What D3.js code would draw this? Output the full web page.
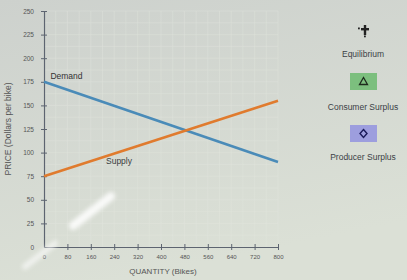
<!DOCTYPE html>
<html>
<head>
<meta charset="utf-8">
<script src="https://cdn.jsdelivr.net/npm/d3@7"></script>
<style>
  body { margin: 0; background: #d6dad4; }
  svg { display: block; font-family: "Liberation Sans", Arial, sans-serif; }
</style>
</head>
<body>
<div id="chart"></div>
<script>
// data
const quantityTicks = [0, 80, 160, 240, 320, 400, 480, 560, 640, 720, 800];
const priceTicks = [0, 25, 50, 75, 100, 125, 150, 175, 200, 225, 250];
const demandQ = [0, 800];
const demandP = [175, 90];
const supplyQ = [0, 800];
const supplyP = [75, 155];
const legendItems = ['Equilibrium', 'Consumer Surplus', 'Producer Surplus'];

const width = 407, height = 280;

const svg = d3.select('#chart')
  .append('svg')
  .attr('width', width)
  .attr('height', height);

// photo-ish background
const defs = svg.append('defs');
const bg = defs.append('linearGradient').attr('id', 'bg')
  .attr('x1', 0).attr('y1', 0).attr('x2', 0.3).attr('y2', 1);
bg.append('stop').attr('offset', 0).attr('stop-color', '#cdd1cd');
bg.append('stop').attr('offset', 1).attr('stop-color', '#dbe0d6');
defs.append('filter').attr('id', 'blur')
  .append('feGaussianBlur').attr('stdDeviation', 2);

svg.append('rect').attr('width', width).attr('height', height).attr('fill', 'url(#bg)');

const x = d3.scaleLinear().domain([0, 800]).range([44, 278]);
const y = d3.scaleLinear().domain([0, 250]).range([247, 11]);

// faint grid
const grid = svg.append('g').attr('stroke', '#e2e6df').attr('stroke-width', 0.5).attr('opacity', 0.7);
d3.range(0, 801, 40).forEach(q => {
  grid.append('line').attr('x1', x(q)).attr('x2', x(q)).attr('y1', y(0)).attr('y2', y(250));
});
d3.range(0, 251, 12.5).forEach(p => {
  grid.append('line').attr('x1', x(0)).attr('x2', x(800)).attr('y1', y(p)).attr('y2', y(p));
});

// axes
const axisColor = '#5d6470';
const xAxis = svg.append('g')
  .attr('transform', `translate(0, ${y(0)})`)
  .call(d3.axisBottom(x).tickValues(quantityTicks).tickSize(0).tickPadding(8));
xAxis.select('.domain').attr('stroke', axisColor).attr('stroke-width', 1.2);
xAxis.selectAll('.tick text').attr('fill', '#555').style('font-size', '6px').style('font-family', 'Liberation Sans');
xAxis.selectAll('.tick').filter(d => d > 0).append('line')
  .attr('y1', -3).attr('y2', 3).attr('stroke', axisColor);

const yAxis = svg.append('g')
  .attr('transform', `translate(${x(0)}, 0)`)
  .call(d3.axisLeft(y).tickValues(priceTicks).tickSize(0).tickPadding(10));
yAxis.select('.domain').attr('stroke', axisColor).attr('stroke-width', 1.2);
yAxis.selectAll('.tick text').attr('fill', '#555').style('font-size', '6.5px').style('font-family', 'Liberation Sans');
yAxis.selectAll('.tick').filter(d => d > 0).append('line')
  .attr('x1', -3).attr('x2', 3).attr('stroke', axisColor);

// axis titles
svg.append('text')
  .attr('x', x(400) + 2).attr('y', 274)
  .attr('text-anchor', 'middle')
  .attr('fill', '#555').style('font-size', '8px')
  .text('QUANTITY (Bikes)');
svg.append('text')
  .attr('transform', `translate(11, ${y(125)}) rotate(-90)`)
  .attr('text-anchor', 'middle')
  .attr('fill', '#555').style('font-size', '8.5px')
  .text('PRICE (Dollars per bike)');

// curves
const line = d3.line().x(d => x(d[0])).y(d => y(d[1]));
svg.append('path')
  .datum(d3.zip(demandQ, demandP))
  .attr('d', line)
  .attr('fill', 'none').attr('stroke', '#4a8bb8').attr('stroke-width', 2.6);
svg.append('path')
  .datum(d3.zip(supplyQ, supplyP))
  .attr('d', line)
  .attr('fill', 'none').attr('stroke', '#e07b2e').attr('stroke-width', 2.6);

svg.append('text').attr('x', x(22)).attr('y', y(178))
  .attr('fill', '#333').style('font-size', '8.5px').text('Demand');
svg.append('text').attr('x', x(212)).attr('y', y(88))
  .attr('fill', '#3a3d42').style('font-size', '8.5px').text('Supply');

// legend
const lx = 364;
const eq = svg.append('g').attr('transform', `translate(${lx + 1}, 30)`).attr('fill', '#222');
eq.append('rect').attr('x', -1.2).attr('y', -5).attr('width', 2.4).attr('height', 10);
eq.append('rect').attr('x', -4).attr('y', -2).attr('width', 8).attr('height', 2.4);
eq.append('rect').attr('x', -7).attr('y', -2.5).attr('width', 1.8).attr('height', 1.8);
eq.append('rect').attr('x', -1).attr('y', 5.5).attr('width', 1.8).attr('height', 1.8);

const legendY = [57, 110, 160];
svg.selectAll('.legend-label')
  .data(legendItems)
  .enter()
  .append('text')
  .attr('x', lx - 1).attr('y', (d, i) => legendY[i])
  .attr('text-anchor', 'middle')
  .attr('fill', '#3b3f46').style('font-size', '8.5px')
  .text(d => d);

svg.append('rect').attr('x', 350).attr('y', 73).attr('width', 27).attr('height', 17).attr('fill', '#7cbf7e');
svg.append('path').attr('d', 'M363.5,77.5 L367.5,84.5 L359.5,84.5 Z')
  .attr('fill', 'none').attr('stroke', '#1d2b1d').attr('stroke-width', 1.3);
svg.append('rect').attr('x', 350).attr('y', 125).attr('width', 27).attr('height', 17).attr('fill', '#9d9ede');
svg.append('path').attr('d', 'M363.5,129.5 L367,133.5 L363.5,137.5 L360,133.5 Z')
  .attr('fill', 'none').attr('stroke', '#1a1a5a').attr('stroke-width', 1.4);

// glare streaks from the photo
const glare = svg.append('g').attr('filter', 'url(#blur)').attr('fill', '#ffffff').attr('opacity', 0.85);
glare.append('rect').attr('x', -28).attr('y', -4).attr('width', 56).attr('height', 8).attr('rx', 4)
  .attr('transform', 'translate(92, 211) rotate(-38)');
glare.append('rect').attr('x', -22).attr('y', -3).attr('width', 44).attr('height', 6).attr('rx', 3)
  .attr('transform', 'translate(40, 255) rotate(-38)').attr('opacity', 0.7);
</script>
</body>
</html>
